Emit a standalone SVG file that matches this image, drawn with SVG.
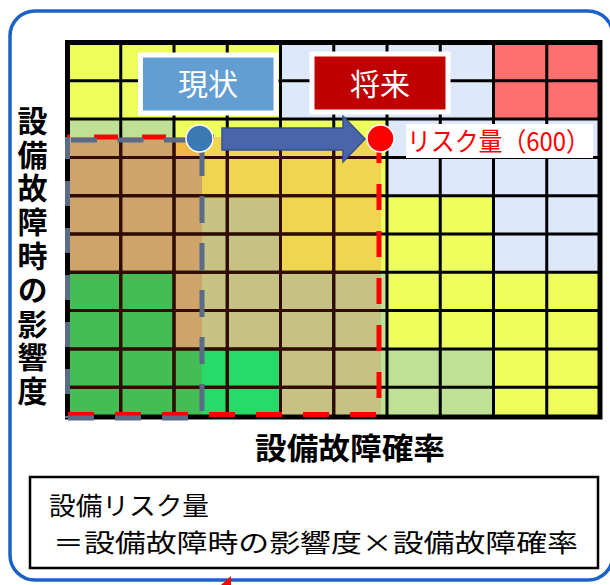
<svg xmlns="http://www.w3.org/2000/svg" width="610" height="585" viewBox="0 0 610 585">
<style>
.Y{fill:#EEFE5C}.B{fill:#DDE9FB}.R{fill:#FF6F6F}.G{fill:#BFE196}
.tan{fill:#CEA46B}.grn{fill:#45BD55}.org{fill:#F2B642}.gold{fill:#F0D650}.olv{fill:#C5C283}.bgr{fill:#28DA67}
.gl{stroke:#000;stroke-width:3;fill:none}
.gm{stroke:#330A00;stroke-width:3;fill:none}
.jp{font-family:"Noto Sans CJK JP","Noto Sans CJK SC",sans-serif}
.bold{font-weight:700}
</style>
<rect width="610" height="585" fill="#fff"/>
<rect id="frame" x="10" y="11" width="603" height="569" rx="25" fill="none" stroke="#1B62C6" stroke-width="3.5"/>

<g id="grid">
  <rect class="Y" x="67.5" y="42.5" width="213" height="76.6"/>
  <rect class="B" x="280.5" y="42.5" width="213" height="76.6"/>
  <rect class="R" x="493.5" y="42.5" width="106.5" height="76.6"/>
  <rect class="G" x="67.5" y="119.1" width="106.5" height="38.3"/>
  <rect class="Y" x="174" y="119.1" width="213" height="38.3"/>
  <rect class="B" x="387" y="119.1" width="213" height="76.6"/>
  <rect class="Y" x="333.75" y="157.4" width="53.25" height="114.9"/>
  <rect class="Y" x="387" y="195.7" width="106.5" height="76.6"/>
  <rect class="B" x="493.5" y="195.7" width="106.5" height="76.6"/>
  <rect class="Y" x="387" y="272.3" width="213" height="76.6"/>
  <rect class="G" x="333.75" y="272.3" width="53.25" height="144.7"/>
  <rect class="G" x="387" y="348.9" width="106.5" height="68.1"/>
  <rect class="Y" x="493.5" y="348.9" width="106.5" height="68.1"/>
  <rect class="tan" x="67.5" y="137" width="106.5" height="135.3"/>
  <rect class="grn" x="67.5" y="272.3" width="106.5" height="144.7"/>
  <rect class="org" x="174" y="137" width="28" height="20.4"/>
  <rect class="tan" x="174" y="157.4" width="28" height="191.5"/>
  <rect class="grn" x="174" y="348.9" width="28" height="68.1"/>
  <rect class="gold" x="202" y="137" width="179" height="58.7"/>
  <rect class="olv" x="202" y="195.7" width="78.5" height="153.2"/>
  <rect class="gold" x="280.5" y="195.7" width="100.5" height="76.6"/>
  <rect class="olv" x="280.5" y="272.3" width="100.5" height="144.7"/>
  <rect class="bgr" x="202" y="348.9" width="78.5" height="68.1"/>
  <path class="gl" d="M120.75,42.5V417M174,42.5V417M227.25,42.5V417M280.5,42.5V417M333.75,42.5V417M387,42.5V417M440.25,42.5V417M493.5,42.5V417M546.75,42.5V417
  M67.5,80.8H600M67.5,119.1H600M67.5,157.4H600M67.5,195.7H600M67.5,234H600M67.5,272.3H600M67.5,310.6H600M67.5,348.9H600M67.5,387.2H600"/>
  <path class="gm" d="M120.75,139V415M174,139V415M227.25,139V415M280.5,139V415M333.75,139V415
  M69,157.4H380M69,195.7H380M69,234H380M69,272.3H380M69,310.6H380M69,348.9H380M69,387.2H380"/>
  <rect x="67.5" y="42.5" width="532.5" height="374.5" fill="none" stroke="#000" stroke-width="5"/>
</g>

<g id="range-future" fill="none" stroke="#FF0000" stroke-width="5">
  <path d="M67,137H379" stroke-dasharray="24 24" stroke-dashoffset="21"/>
  <path d="M67.5,137V415" stroke-dasharray="22 25"/>
  <path d="M379,137V415" stroke-dasharray="26 21"/>
  <path d="M67,414.5H379" stroke-dasharray="26 21" stroke-dashoffset="46"/>
</g>
<g id="range-current" fill="none" stroke="#5A6B87" stroke-width="5">
  <path d="M67,140H202" stroke-dasharray="26 20.5" stroke-dashoffset="42.5"/>
  <path d="M67.5,137V418" stroke-dasharray="25 22" stroke-dashoffset="3"/>
  <path d="M202,140V418" stroke-dasharray="27 20" stroke-dashoffset="38"/>
  <path d="M67,418H202" stroke-dasharray="26 21" stroke-dashoffset="46"/>
</g>

<g id="connectors">
  <polygon points="222,128 343,128 343,116 365,139 343,162 343,150 222,150" fill="#4A65AB" stroke="#34508C" stroke-width="1.5"/>
</g>

<g id="point-current">
  <circle cx="199.5" cy="138.5" r="13.5" fill="#3B78B4" stroke="#fff" stroke-width="1.5"/>
</g>
<g id="point-future">
  <circle cx="380.5" cy="138.5" r="13.5" fill="#FF0000" stroke="#fff" stroke-width="1.5"/>
</g>

<g id="box-current">
  <rect x="140.5" y="55" width="135.5" height="58" fill="#629ED1" stroke="#fff" stroke-width="5"/>
  <text class="jp" x="208" y="94.5" font-size="30" fill="#fff" text-anchor="middle">現状</text>
</g>
<g id="box-future">
  <rect x="312" y="54" width="136" height="58" fill="#C00000" stroke="#fff" stroke-width="5"/>
  <text class="jp" x="380" y="94.5" font-size="30" fill="#fff" text-anchor="middle">将来</text>
</g>
<g id="label-risk">
  <rect x="406" y="124" width="187" height="34" fill="#fff"/>
  <text class="jp" x="407" y="150.5" font-size="26" fill="#FF0000" textLength="183" lengthAdjust="spacingAndGlyphs">リスク量（600）</text>
</g>

<g id="axis-y">
  <text class="jp bold" x="32.5" y="105.5" font-size="30" fill="#000" writing-mode="vertical-rl" letter-spacing="3.8">設備故障時の影響度</text>
</g>
<g id="axis-x">
  <text class="jp bold" x="255" y="459" font-size="30" fill="#000" textLength="190" lengthAdjust="spacingAndGlyphs">設備故障確率</text>
</g>

<g id="formula">
  <rect x="30" y="477" width="568" height="91" fill="#fff" stroke="#000" stroke-width="2.5"/>
  <text class="jp" x="49" y="515" font-size="25" fill="#000" textLength="160" lengthAdjust="spacingAndGlyphs">設備リスク量</text>
  <text class="jp" x="53" y="551.5" font-size="25" fill="#000" textLength="525" lengthAdjust="spacingAndGlyphs">＝設備故障時の影響度×設備故障確率</text>
</g>
<polygon points="221,585 231,576 231,585" fill="#FF0000"/>
</svg>
